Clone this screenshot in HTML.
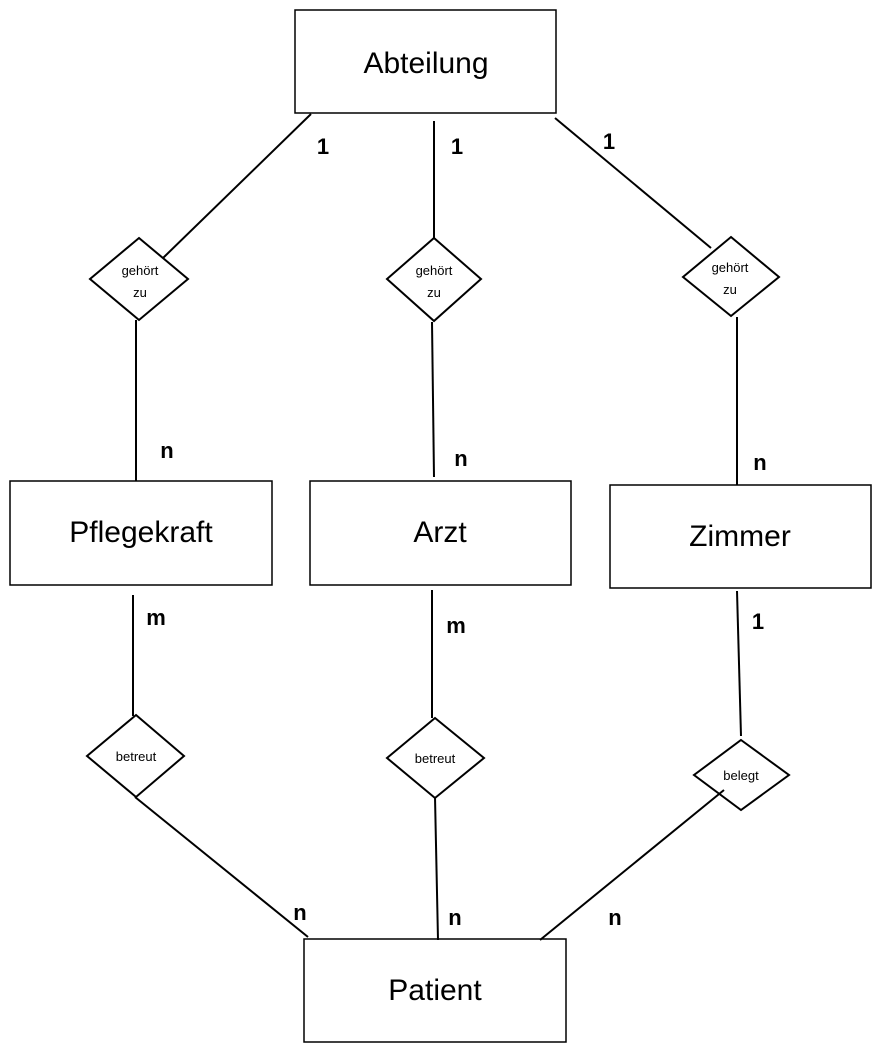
<!DOCTYPE html>
<html><head><meta charset="utf-8"><style>
html,body{margin:0;padding:0;background:#fff}
svg text{font-family:"Liberation Sans",sans-serif;fill:#000}
</style></head><body>
<svg width="882" height="1054" viewBox="0 0 882 1054" xmlns="http://www.w3.org/2000/svg">
<g fill="#fff" stroke="#000" stroke-width="1.5">
<rect x="295" y="10" width="261" height="103"/>
<rect x="10" y="481" width="262" height="104"/>
<rect x="310" y="481" width="261" height="104"/>
<rect x="610" y="485" width="261" height="103"/>
<rect x="304" y="939" width="262" height="103"/>
</g>
<g stroke="#000" stroke-width="2" fill="none">
<line x1="311" y1="114" x2="163" y2="258"/>
<line x1="434" y1="121" x2="434" y2="238"/>
<line x1="555" y1="118" x2="711" y2="248"/>
<line x1="136" y1="320" x2="136" y2="481"/>
<line x1="432" y1="322" x2="434" y2="477"/>
<line x1="737" y1="317" x2="737" y2="485"/>
<line x1="133" y1="595" x2="133" y2="716"/>
<line x1="432" y1="590" x2="432" y2="718"/>
<line x1="737" y1="591" x2="741" y2="736"/>
<line x1="135" y1="797" x2="308" y2="937"/>
<line x1="435" y1="797" x2="438" y2="940"/>
<line x1="724" y1="790" x2="540" y2="940"/>
</g>
<g fill="none" stroke="#000" stroke-width="2">
<polygon points="139,238 188,279 139,320 90,279"/>
<polygon points="434,238 481,279 434,321 387,279"/>
<polygon points="731,237 779,277 731,316 683,277"/>
<polygon points="136,715 184,756 136,797 87,756"/>
<polygon points="435,718 484,758 435,798 387,758"/>
<polygon points="741,740 789,775 741,810 694,775"/>
</g>
<g font-size="30" text-anchor="middle">
<text x="426" y="73">Abteilung</text>
<text x="141" y="542">Pflegekraft</text>
<text x="440" y="542">Arzt</text>
<text x="740" y="546">Zimmer</text>
<text x="435" y="1000">Patient</text>
</g>
<g font-size="13" text-anchor="middle">
<text x="140" y="275">gehört</text><text x="140" y="297">zu</text>
<text x="434" y="275">gehört</text><text x="434" y="297">zu</text>
<text x="730" y="272">gehört</text><text x="730" y="294">zu</text>
<text x="136" y="761">betreut</text>
<text x="435" y="763">betreut</text>
<text x="741" y="780">belegt</text>
</g>
<g font-size="22" font-weight="bold" text-anchor="middle">
<text x="323" y="154">1</text><text x="457" y="154">1</text><text x="609" y="149">1</text>
<text x="167" y="458">n</text><text x="461" y="466">n</text><text x="760" y="470">n</text>
<text x="156" y="625">m</text><text x="456" y="633">m</text><text x="758" y="629">1</text>
<text x="300" y="920">n</text><text x="455" y="925">n</text><text x="615" y="925">n</text>
</g>
</svg>
</body></html>
